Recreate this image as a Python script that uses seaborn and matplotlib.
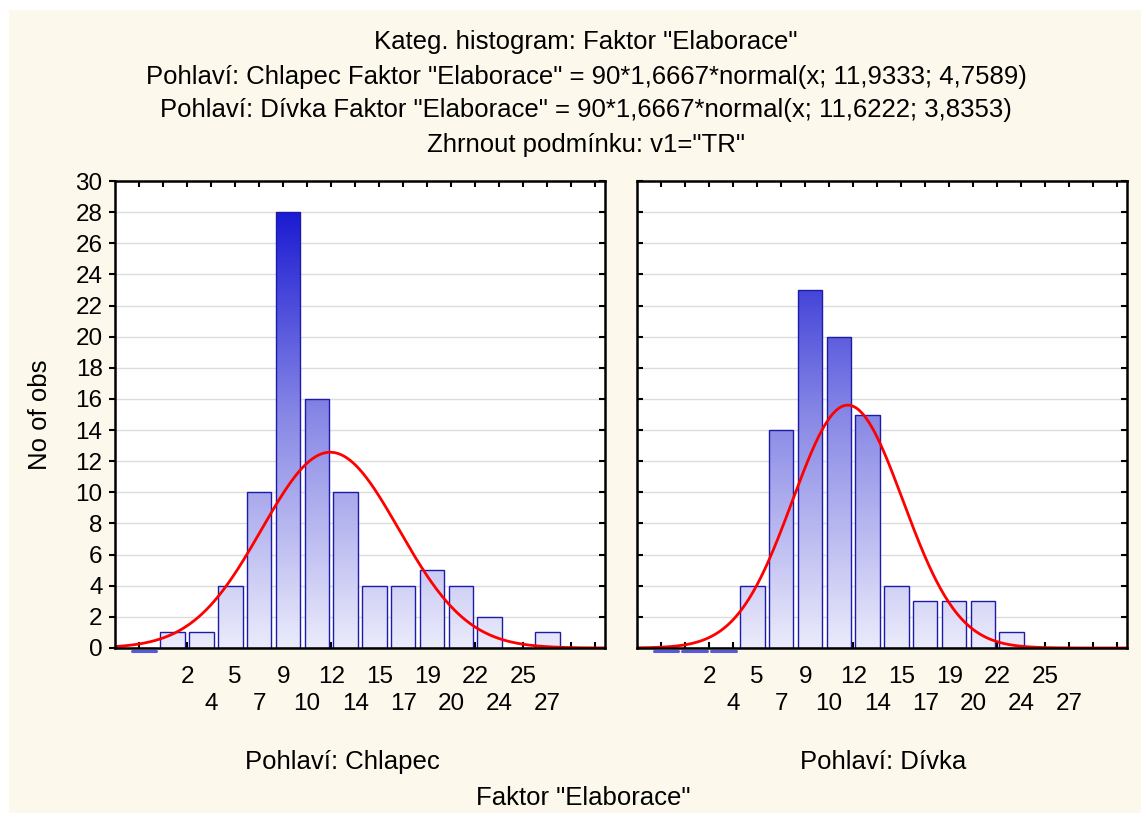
import numpy as np
import pandas as pd
import matplotlib
matplotlib.use("Agg")
import matplotlib.pyplot as plt
import seaborn as sns
from matplotlib.patches import Rectangle
from matplotlib.colors import LinearSegmentedColormap
from matplotlib.lines import Line2D
import matplotlib.transforms as mtransforms

# ---------------- data ----------------
bin_centers = [-1, 1, 3, 5, 7, 9, 11, 13, 15, 17, 19, 21, 23, 25, 27]
counts_chlapec = [0, 1, 1, 4, 10, 28, 16, 10, 4, 4, 5, 4, 2, 0, 1]
counts_divka = [0, 0, 0, 4, 14, 23, 20, 15, 4, 3, 3, 3, 1, 0, 0]
panel_labels = ["Pohlaví: Chlapec", "Pohlaví: Dívka"]
fit_means = [11.9333, 11.6222]
fit_sds = [4.7589, 3.8353]
n_obs = 90
fit_width = 1.6667
xtick_values = [-1.3333, 0.3333, 2.0, 3.6667, 5.3333, 7.0, 8.6667, 10.3333,
                12.0, 13.6667, 15.3333, 17.0, 18.6667, 20.3333, 22.0, 23.6667,
                25.3333, 27.0, 28.6667, 30.3333]
xtick_labels = ["", "", "2", "4", "5", "7", "9", "10", "12", "14", "15", "17",
                "19", "20", "22", "24", "25", "27", "", ""]
ytick_values = list(range(0, 31, 2))
title_lines = [
    'Kateg. histogram: Faktor "Elaborace"',
    'Pohlaví: Chlapec Faktor "Elaborace" = 90*1,6667*normal(x; 11,9333; 4,7589)',
    'Pohlaví: Dívka Faktor "Elaborace" = 90*1,6667*normal(x; 11,6222; 3,8353)',
    'Zhrnout podmínku: v1="TR"',
]
x_title = 'Faktor "Elaborace"'
y_title = "No of obs"

# ---------------- style ----------------
sns.set_style("white")
plt.rcParams["font.family"] = ["Liberation Sans", "DejaVu Sans"]
plt.rcParams["text.color"] = "black"
plt.rcParams["xtick.color"] = "black"
plt.rcParams["ytick.color"] = "black"
FS = 17.5
FS_T = 18.5

W, H = 1141, 814
fig = plt.figure(figsize=(W / 100, H / 100), dpi=100, facecolor="white")
fig.patches.append(Rectangle((9 / W, 1 / H), (W - 9) / W, (803) / H,
                             transform=fig.transFigure, facecolor="#fdf8ec",
                             edgecolor="none", zorder=-10))

def px(x, y):
    return x / W, 1 - y / H

ax_b, ax_t = 648, 181
axes_l = [115, 637]
ax_w = 490
axes = []
for xl in axes_l:
    a = fig.add_axes([xl / W, (H - ax_b) / H, ax_w / W, (ax_b - ax_t) / H])
    axes.append(a)

cmap = LinearSegmentedColormap.from_list("grad", ["#ebebfb", "#8787e6", "#0a0acf"])
edges = [c - 1 for c in bin_centers] + [bin_centers[-1] + 1]

# split labels into two rows (alternating)
named = [(v, t) for v, t in zip(xtick_values, xtick_labels) if t]
row1 = named[0::2]
row2 = named[1::2]

for i, (ax, counts) in enumerate(zip(axes, [counts_chlapec, counts_divka])):
    ax.set_facecolor("white")
    df = pd.DataFrame({"x": bin_centers, "w": counts})
    sns.histplot(data=df, x="x", weights="w", bins=edges, shrink=0.85,
                 ax=ax, color="#6060e0", edgecolor="#1c1ca8", linewidth=1.0)
    ax.set_xlim(-3, 31)
    ax.set_ylim(0, 30)
    # gradient fill clipped to each bar
    grad = np.linspace(0, 1, 256).reshape(-1, 1)
    first_nz = next(k for k, c in enumerate(counts) if c > 0)
    for k, p in enumerate(list(ax.patches)):
        x0 = p.get_x(); w = p.get_width(); h = p.get_height()
        p.set_facecolor("none")
        p.set_zorder(2.2)
        if h > 0:
            im = ax.imshow(grad, extent=(x0, x0 + w, 0, 30), origin="lower",
                           cmap=cmap, vmin=0, vmax=1, aspect="auto", zorder=2.1)
            im.set_clip_path(p)
        elif k < first_nz:
            off = mtransforms.offset_copy(ax.transData, fig=fig, x=0, y=-2.5,
                                          units="dots")
            ax.add_line(Line2D([x0, x0 + w], [0, 0], color="#5a5ad8", lw=2.2,
                               transform=off, clip_on=False, zorder=1.9))
    ax.set_xlim(-3, 31)
    ax.set_ylim(0, 30)
    # normal fit curve
    xs = np.linspace(-3, 31, 500)
    ys = n_obs * fit_width * np.exp(-0.5 * ((xs - fit_means[i]) / fit_sds[i]) ** 2) / (
        fit_sds[i] * np.sqrt(2 * np.pi))
    ax.plot(xs, ys, color="#ff0000", lw=2.0, zorder=4)
    # grid
    ax.set_yticks(ytick_values)
    ax.yaxis.grid(True, color="#dcdcdc", lw=1.0, zorder=0)
    ax.set_axisbelow(True)
    # x ticks: marks at every position, labels on two rows
    ax.xaxis.remove_overlapping_locs = False
    row1_set = {v for v, _ in row1}
    ax.set_xticks(xtick_values)
    ax.set_xticklabels([t if v in row1_set else "" for v, t in zip(xtick_values, xtick_labels)],
                       fontsize=FS)
    ax.set_xticks([v for v, _ in row2], minor=True)
    ax.set_xticklabels([t for _, t in row2], minor=True, fontsize=FS)
    ax.tick_params(axis="x", which="major", direction="in", length=4, width=1.5,
                   top=True, bottom=True, pad=13, colors="black")
    ax.tick_params(axis="x", which="minor", direction="in", length=0, width=0,
                   top=False, bottom=True, pad=32.5, colors="black")
    if i == 0:
        ax.tick_params(axis="y", which="both", left=True, right=True, direction="out",
                       length=4, width=1.5, labelsize=FS, pad=5, colors="black")
        for t in ax.yaxis.get_major_ticks():
            t.tick2line.set_marker(0)  # inward from right spine
    else:
        ax.tick_params(axis="y", which="both", left=True, right=True, direction="in",
                       length=4, width=1.5, labelleft=False)
    ax.set_xlabel("")
    ax.set_ylabel("")
    for s in ax.spines.values():
        s.set_visible(True)
        s.set_color("black")
        s.set_linewidth(1.8)
        s.set_zorder(5)

# titles and labels
ty = [42, 77, 110, 145]
for line, y in zip(title_lines, ty):
    fig.text(*px(586, y), line, ha="center", va="center", fontsize=FS_T)
fig.text(*px(342, 762), panel_labels[0], ha="center", va="center", fontsize=FS_T)
fig.text(*px(883, 762), panel_labels[1], ha="center", va="center", fontsize=FS_T)
fig.text(*px(583, 798), x_title, ha="center", va="center", fontsize=FS_T)
fig.text(*px(40, 415), y_title, ha="center", va="center", rotation=90, fontsize=FS_T)

fig.savefig("out.png", dpi=100, facecolor=fig.get_facecolor())
